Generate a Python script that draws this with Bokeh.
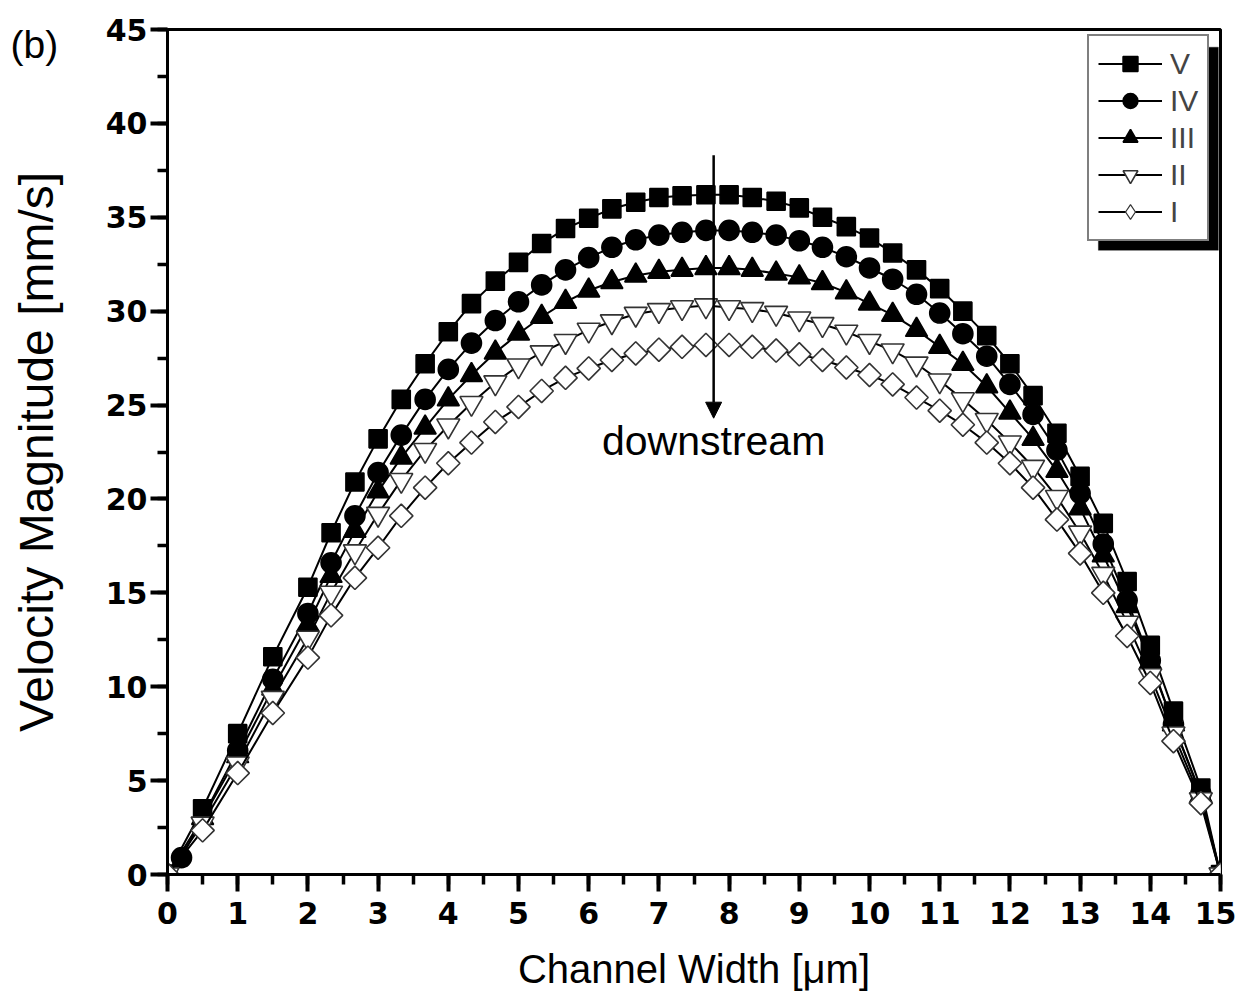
import numpy as np
from bokeh.plotting import figure
from bokeh.models import (Range1d, SingleIntervalTicker, Legend, LegendItem, Arrow,
                          NormalHead, Label, BoxAnnotation, ColumnDataSource)
from bokeh.embed import file_html
from bokeh.resources import INLINE

# ---------------- data ----------------
x_grid = [0, 0.5, 1.0, 1.5, 2.0, 2.33, 2.67, 3.0, 3.33, 3.67, 4.0, 4.33, 4.67, 5.0,
          5.33, 5.67, 6.0, 6.33, 6.67, 7.0, 7.33, 7.67, 8.0, 8.33, 8.67, 9.0, 9.33,
          9.67, 10.0, 10.33, 10.67, 11.0, 11.33, 11.67, 12.0, 12.33, 12.67, 13.0,
          13.33, 13.67, 14.0, 14.33, 14.72, 15.0]
x_iv = [0, 0.2, 1.0, 1.5, 2.0, 2.33, 2.67, 3.0, 3.33, 3.67, 4.0, 4.33, 4.67, 5.0,
        5.33, 5.67, 6.0, 6.33, 6.67, 7.0, 7.33, 7.67, 8.0, 8.33, 8.67, 9.0, 9.33,
        9.67, 10.0, 10.33, 10.67, 11.0, 11.33, 11.67, 12.0, 12.33, 12.67, 13.0,
        13.33, 13.67, 14.0, 14.33, 14.72, 15.0]

v_V = [0, 3.5, 7.5, 11.6, 15.3, 18.2, 20.9, 23.2, 25.3, 27.2, 28.9, 30.4, 31.6, 32.6,
       33.6, 34.4, 34.95, 35.45, 35.8, 36.05, 36.15, 36.2, 36.2, 36.05, 35.85, 35.5,
       35.0, 34.5, 33.9, 33.1, 32.2, 31.2, 30.0, 28.7, 27.2, 25.5, 23.5, 21.2, 18.7,
       15.6, 12.2, 8.7, 4.6, 0]
v_IV = [0, 0.9, 6.6, 10.4, 13.9, 16.6, 19.1, 21.4, 23.4, 25.3, 26.9, 28.3, 29.5, 30.5,
        31.4, 32.2, 32.85, 33.4, 33.8, 34.05, 34.2, 34.3, 34.3, 34.2, 34.05, 33.75,
        33.4, 32.9, 32.3, 31.7, 30.9, 29.9, 28.8, 27.6, 26.1, 24.5, 22.6, 20.3, 17.6,
        14.6, 11.4, 8.0, 4.3, 0]
v_III = [0, 3.0, 6.3, 9.9, 13.3, 15.9, 18.3, 20.4, 22.2, 23.8, 25.3, 26.6, 27.8, 28.8,
         29.7, 30.5, 31.1, 31.55, 31.9, 32.1, 32.2, 32.3, 32.3, 32.2, 32.0, 31.8, 31.5,
         31.0, 30.4, 29.8, 29.0, 28.1, 27.2, 26.0, 24.6, 23.2, 21.5, 19.5, 17.0, 14.3,
         11.3, 8.0, 4.2, 0]
v_II = [0, 2.7, 5.9, 9.4, 12.6, 15.0, 17.2, 19.2, 21.0, 22.6, 23.9, 25.1, 26.2, 27.1,
        27.8, 28.4, 29.0, 29.45, 29.85, 30.05, 30.2, 30.3, 30.2, 30.1, 29.9, 29.6, 29.3,
        28.9, 28.4, 27.9, 27.2, 26.3, 25.3, 24.2, 23.0, 21.7, 20.1, 18.2, 16.0, 13.4,
        10.6, 7.5, 4.0, 0]
v_I = [0, 2.35, 5.4, 8.6, 11.55, 13.8, 15.8, 17.4, 19.1, 20.6, 21.9, 23.0, 24.1, 24.9,
       25.75, 26.45, 26.95, 27.4, 27.75, 27.95, 28.1, 28.2, 28.2, 28.1, 27.9, 27.7,
       27.4, 27.0, 26.6, 26.1, 25.4, 24.7, 23.95, 23.0, 21.9, 20.6, 18.9, 17.1, 15.0,
       12.7, 10.2, 7.1, 3.8, 0]

series_names = ["V", "IV", "III", "II", "I"]
x_ticks_interval = 1
y_ticks_interval = 5

arrow_x = 7.78
arrow_y_start = 38.3
arrow_y_end = 24.3
arrow_text = "downstream"
panel_letter = "(b)"

FONT = "Liberation Sans"
TICK_FONT = "DejaVu Sans"

p = figure(frame_width=1053, frame_height=845,
           x_range=Range1d(0, 15), y_range=Range1d(0, 45),
           output_backend="svg", toolbar_location=None,
           min_border_left=167, min_border_top=29, min_border_right=16,
           min_border_bottom=118)
p.xgrid.visible = False
p.ygrid.visible = False
p.outline_line_color = "black"
p.outline_line_width = 3
p.outline_line_alpha = 1.0
p.background_fill_color = "white"
p.border_fill_color = "white"

# panel letter as the plot title, pushed left of the frame
p.title.text = panel_letter
p.title.align = "left"
p.title.offset = -157
p.title.vertical_align = "bottom"
p.title.standoff = -72
p.title.text_font = FONT
p.title.text_font_style = "normal"
p.title.text_font_size = "39px"
p.title.text_color = "black"

p.xaxis.ticker = SingleIntervalTicker(interval=x_ticks_interval, num_minor_ticks=2)
p.yaxis.ticker = SingleIntervalTicker(interval=y_ticks_interval, num_minor_ticks=2)

for ax in (p.xaxis[0], p.yaxis[0]):
    ax.axis_line_width = 3
    ax.axis_line_color = "black"
    ax.major_tick_in = 0
    ax.major_tick_out = 17
    ax.minor_tick_in = 0
    ax.minor_tick_out = 10
    ax.major_tick_line_width = 4
    ax.minor_tick_line_width = 3.5
    ax.major_tick_line_color = "black"
    ax.minor_tick_line_color = "black"
    ax.major_label_text_font = TICK_FONT
    ax.major_label_text_font_style = "bold"
    ax.major_label_text_font_size = "30px"
    ax.major_label_text_color = "black"
    ax.axis_label_text_font = FONT
    ax.axis_label_text_font_style = "normal"
    ax.axis_label_text_color = "black"

p.xaxis.axis_label = "Channel Width [μm]"
p.yaxis.axis_label = "Velocity Magnitude [mm/s]"
p.xaxis.axis_label_text_font_size = "40px"
p.yaxis.axis_label_text_font_size = "48px"
p.xaxis.major_label_standoff = 10
p.yaxis.major_label_standoff = 3
p.xaxis.axis_label_standoff = 20
p.yaxis.axis_label_standoff = 40

styles = [
    dict(marker="square", size=18, fill_color="black", line_color="black", angle=0.0),
    dict(marker="circle", size=20, fill_color="black", line_color="black", angle=0.0),
    dict(marker="triangle", size=22, fill_color="black", line_color="black", angle=0.0),
    dict(marker="inverted_triangle", size=23, fill_color="white", line_color="#333333", angle=0.0),
    dict(marker="square", size=16.5, fill_color="white", line_color="#333333", angle=np.pi / 4),
]
xs = [x_grid, x_iv, x_grid, x_grid, x_grid]
ys = [v_V, v_IV, v_III, v_II, v_I]

items = []
for name, xx, yy, st in zip(series_names, xs, ys, styles):
    src = ColumnDataSource(dict(x=xx, y=yy))
    lr = p.line("x", "y", source=src, line_color="black", line_width=2)
    key = None
    if st["angle"] != 0.0:
        # narrow diamond drawn underneath (fully covered by the rotated squares);
        # it only serves as the legend key, since legend keys ignore marker angle
        key = p.scatter("x", "y", source=src, marker="diamond", size=21,
                        fill_color=st["fill_color"], line_color=st["line_color"],
                        line_width=1.2)
    sr = p.scatter("x", "y", source=src, marker=st["marker"], size=st["size"],
                   fill_color=st["fill_color"], line_color=st["line_color"],
                   line_width=1.6, angle=st["angle"])
    items.append(LegendItem(label=name, renderers=[lr, key if key is not None else sr]))

# arrow + text
p.add_layout(Arrow(end=NormalHead(size=16, fill_color="black", line_color="black"),
                   x_start=arrow_x, y_start=arrow_y_start, x_end=arrow_x, y_end=arrow_y_end,
                   line_width=2.5, line_color="black"))
p.add_layout(Label(x=arrow_x, y=23.1, text=arrow_text, text_align="center",
                   text_baseline="middle", text_font=FONT, text_font_size="41px",
                   text_color="black"))

# legend shadow
p.add_layout(BoxAnnotation(left=13.26, right=14.97, top=44.06, bottom=33.24,
                           fill_color="black", fill_alpha=1.0, line_color="black",
                           level="overlay"))

legend = Legend(items=items, location=(920, 633),
                glyph_width=64, glyph_height=37, label_height=37, spacing=0,
                padding=9, label_standoff=8,
                label_text_font=FONT, label_text_font_size="30px",
                border_line_color="black", border_line_width=2,
                background_fill_color="white", background_fill_alpha=1.0)
p.add_layout(legend)

open("out.html", "w").write(file_html(p, INLINE))
